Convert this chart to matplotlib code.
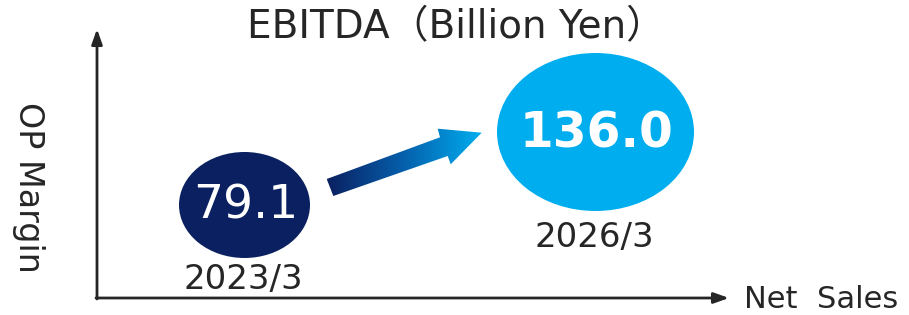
import matplotlib
matplotlib.use("Agg")
import matplotlib.pyplot as plt
import numpy as np
from matplotlib.patches import Ellipse, Polygon
from matplotlib.colors import LinearSegmentedColormap

# Data
periods = ["2023/3", "2026/3"]
ebitda = [79.1, 136.0]
title = "EBITDA（Billion Yen）"
x_label = "Net  Sales"
y_label = "OP Margin"

W, H = 909, 315
fig = plt.figure(figsize=(W / 100, H / 100), dpi=100)
ax = fig.add_axes([0, 0, 1, 1])
ax.set_xlim(0, W)
ax.set_ylim(H, 0)
ax.axis("off")

axc = "#262626"
fam = ["DejaVu Sans", "Noto Sans CJK JP"]
# axes arrows
ax.annotate("", xy=(97, 29), xytext=(97, 299),
            arrowprops=dict(arrowstyle="-|>,head_length=0.9,head_width=0.32", lw=2, color=axc,
                            shrinkA=0, shrinkB=0))
ax.annotate("", xy=(729, 298), xytext=(96, 298),
            arrowprops=dict(arrowstyle="-|>,head_length=0.9,head_width=0.32", lw=2, color=axc,
                            shrinkA=0, shrinkB=0))

ax.text(821, 299, x_label, fontsize=22, color=axc, ha="center", va="center", family=fam)
ax.text(28, 187, y_label, fontsize=24, color=axc, ha="center", va="center",
        rotation=270, family=fam)
ax.text(456, 27, title, fontsize=28, color=axc, ha="center", va="center", family=fam)

# bubbles
centers = [(244.5, 205), (595.5, 132)]
sizes = [(131, 106), (197, 158)]
colors = ["#0b2060", "#00aeef"]
weights = ["normal", "bold"]
fsz = [34, 35]
for (cx, cy), (w, h), c, v, wt, fs in zip(centers, sizes, colors, ebitda, weights, fsz):
    ax.add_patch(Ellipse((cx, cy), w, h, facecolor=c, edgecolor="none"))
    ax.text(cx + 1, cy + 1, f"{v:.1f}", color="white", fontsize=fs, fontweight=wt,
            ha="center", va="center", family=fam)

ax.text(243.5, 280, periods[0], fontsize=24.5, color=axc, ha="center", va="center", family=fam)
ax.text(594, 238, periods[1], fontsize=24.5, color=axc, ha="center", va="center", family=fam)

# gradient arrow
pts = np.array([(326.7, 179), (440, 137.3), (437.7, 128.7), (481.7, 132.7),
                (450.7, 164.3), (447.7, 156), (333.3, 196)])
poly = Polygon(pts, closed=True, facecolor="none", edgecolor="none")
ax.add_patch(poly)
cmap = LinearSegmentedColormap.from_list("g", ["#0b2060", "#0560ad", "#00aeef"])
grad = np.linspace(0, 1, 256).reshape(1, -1)
im = ax.imshow(grad, cmap=cmap, extent=(pts[:, 0].min(), pts[:, 0].max(),
                                       pts[:, 1].max(), pts[:, 1].min()),
               aspect="auto", interpolation="bilinear")
im.set_clip_path(poly)
ax.set_xlim(0, W)
ax.set_ylim(H, 0)

fig.savefig("out.png", dpi=100)
